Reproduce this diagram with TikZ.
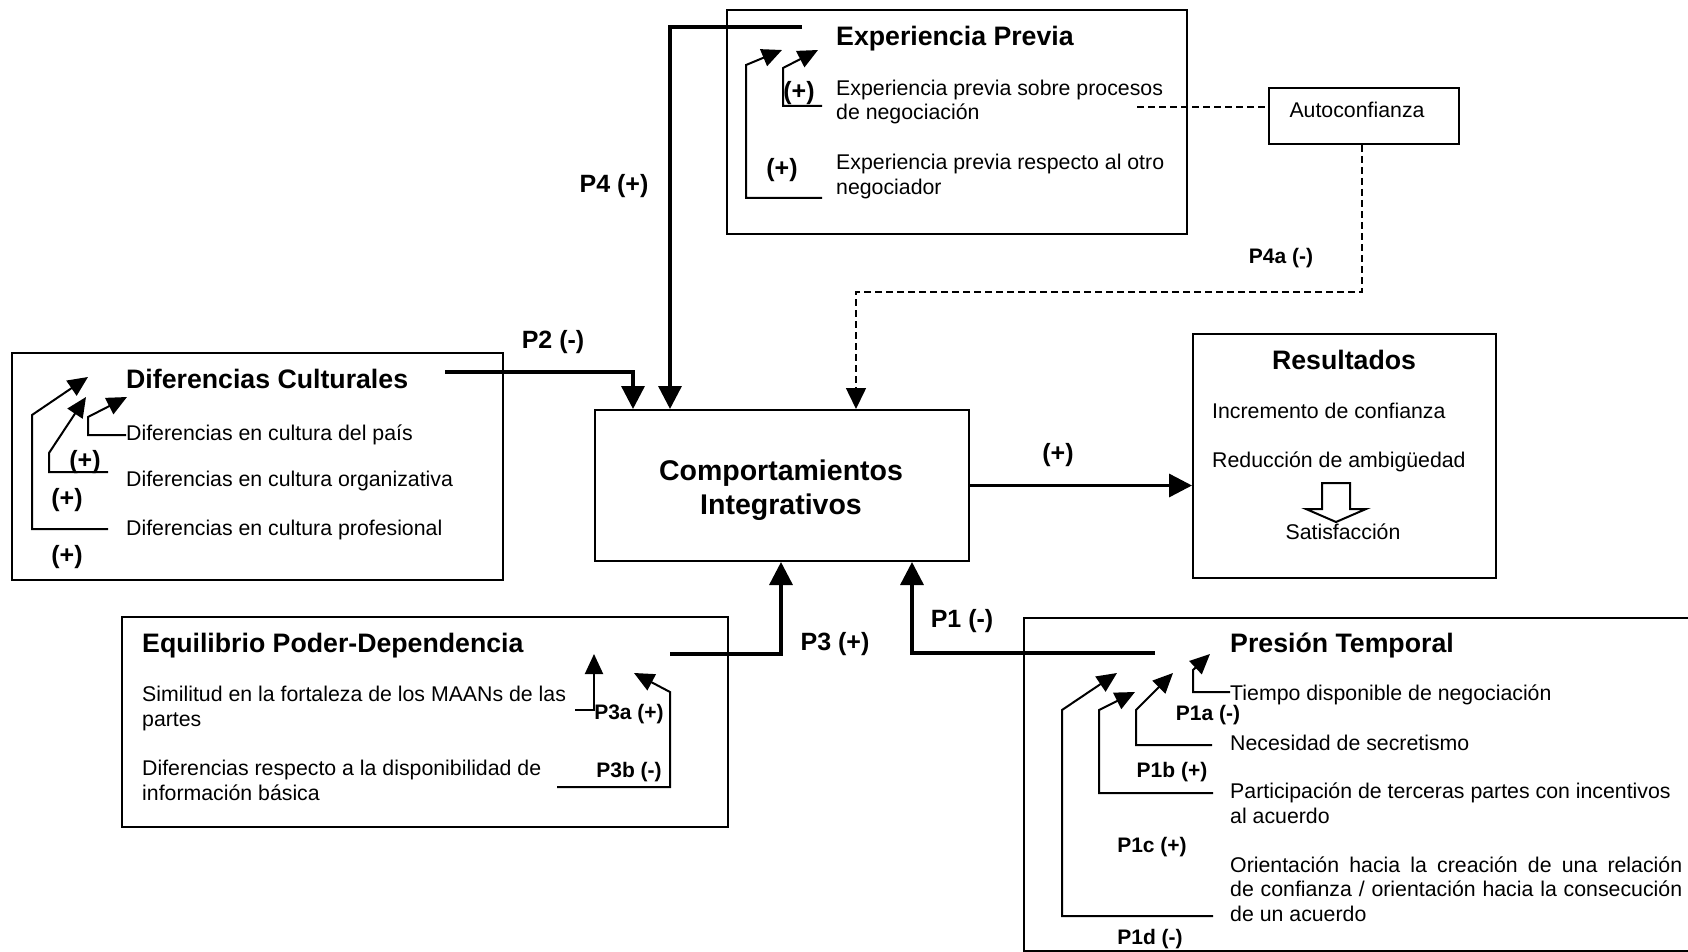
\documentclass[tikz,border=0pt]{standalone}
\usepackage{fontspec}
\setmainfont{Liberation Sans}
\usetikzlibrary{arrows.meta,calc}

\begin{document}
\begin{tikzpicture}[x=1pt,y=-1pt,
  box/.style={draw,line width=2pt,inner sep=0pt},
  body/.style={font=\fontsize{21.3}{24.5}\selectfont,inner sep=0pt,align=left},
  ttl/.style={font=\bfseries\fontsize{26.7}{30}\selectfont,inner sep=0pt},
  lab/.style={font=\bfseries\fontsize{25}{28}\selectfont,inner sep=0pt},
  slab/.style={font=\bfseries\fontsize{21}{24}\selectfont,inner sep=0pt},
  main/.style={line width=3.4pt,-{Triangle[length=23pt,width=23pt]}},
  sub/.style={line width=2pt,-{Triangle[length=20pt,width=18pt]}},
  dsh/.style={line width=1.6pt,dash pattern=on 7pt off 4pt},
]
\useasboundingbox (0,0) rectangle (1688,952);
\clip (0,0) rectangle (1688,952);

% ---------- boxes ----------
\node[box,anchor=north west,minimum width=491pt,minimum height=227pt] (dif) at (11,352) {};
\node[box,anchor=north west,minimum width=460pt,minimum height=224pt] (exp) at (726,9) {};
\node[box,anchor=north west,minimum width=190pt,minimum height=56pt] (auto) at (1268,87) {};
\node[box,anchor=north west,minimum width=374pt,minimum height=151pt] (comp) at (594,409) {};
\node[box,anchor=north west,minimum width=303pt,minimum height=244pt] (res) at (1192,333) {};
\node[box,anchor=north west,minimum width=606pt,minimum height=210pt] (eq) at (121,616) {};
\node[box,anchor=north west,minimum width=700pt,minimum height=333pt] (pres) at (1023,617) {};

\node[font=\fontsize{21.3}{24.5}\selectfont,inner sep=0pt] (autoT) at (1357,110) {Autoconfianza};
\node[align=center,inner sep=0pt,font=\bfseries\fontsize{28.5}{34}\selectfont]
  (compT) at (781,490) {Comportamientos\\Integrativos};

% ---------- Diferencias Culturales ----------
\node[ttl,anchor=base west] (difT) at (126,388) {Diferencias Culturales};
\node[body,anchor=base west] (dif1) at (126,440) {Diferencias en cultura del país};
\node[body,anchor=base west] (dif2) at (126,486) {Diferencias en cultura organizativa};
\node[body,anchor=base west] (dif3) at (126,535) {Diferencias en cultura profesional};
\node[lab] (difp1) at (85,462) {(+)};
\node[lab] (difp2) at (67,500) {(+)};
\node[lab] (difp3) at (67,557) {(+)};
\coordinate (d1) at (127,397);
\coordinate (d2) at (86,397);
\coordinate (d3) at (88,377);
\draw[sub] (dif1.west |- 0,435) -- (88,435) -- (88,417) -- (d1);
\draw[sub] (108,472) -- (49,472) -- (49,453) -- (d2);
\draw[sub] (108,529) -- (32,529) -- (32,415) -- (d3);

% ---------- Experiencia Previa ----------
\node[ttl,anchor=base west] (expT) at (836,46) {Experiencia Previa};
\node[body,anchor=base west] (exp1) at (836,120) {Experiencia previa sobre procesos\\de negociación};
\node[body,anchor=base west] (exp2) at (836,194) {Experiencia previa respecto al otro\\negociador};
\node[lab] (expp1) at (799,93) {(+)};
\node[lab] (expp2) at (782,170) {(+)};
\coordinate (e1) at (818,50);
\coordinate (e2) at (782,50);
\draw[sub] (822,106) -- (783,106) -- (783,68) -- (e1);
\draw[sub] (822,198) -- (746,198) -- (746,65) -- (e2);

% ---------- Resultados ----------
\node[ttl] (resT) at (1344,360) {Resultados};
\node[body,anchor=base west] (res1) at (1212,418) {Incremento de confianza};
\node[body,anchor=base west] (res2) at (1212,467) {Reducción de ambigüedad};
\node[body] (res3) at (1343,532) {Satisfacción};
\draw[line width=2pt,line join=miter]
  (1322,483) -- (1322,509) -- (1306,509) -- (1336,522) -- (1366,509)
  -- (1350,509) -- (1350,483) -- cycle;

% ---------- Equilibrio Poder-Dependencia ----------
\node[ttl,anchor=base west] (eqT) at (142,652) {Equilibrio Poder-Dependencia};
\node[body,anchor=base west] (eq1) at (142,726) {Similitud en la fortaleza de los MAANs de las\\partes};
\node[body,anchor=base west] (eq2) at (142,800) {Diferencias respecto a la disponibilidad de\\información básica};
\node[slab] (p3a) at (629,714) {P3a (+)};
\node[slab] (p3b) at (629,772) {P3b (-)};
\coordinate (q1) at (594,654);
\coordinate (q2) at (634,673);
\draw[sub] (575,710) -- (594,710) -- (q1);
\draw[sub] (557,787) -- (670,787) -- (670,692) -- (q2);

% ---------- Presion Temporal ----------
\node[ttl,anchor=base west] (prT) at (1230,652) {Presión Temporal};
\node[body,anchor=base west] (pr1) at (1230,700) {Tiempo disponible de negociación};
\node[body,anchor=base west] (pr2) at (1230,750) {Necesidad de secretismo};
\node[body,anchor=base west] (pr3) at (1230,823) {Participación de terceras partes con incentivos\\al acuerdo};
\node[body,anchor=base west] (pr4) at (1230,921)
  {\makebox[452pt][s]{Orientación hacia la creación de una relación}\\
   \makebox[452pt][s]{de confianza / orientación hacia la consecución}\\
   de un acuerdo};
\node[slab] (p1a) at (1208,715) {P1a (-)};
\node[slab] (p1b) at (1172,772) {P1b (+)};
\node[slab] (p1c) at (1152,847) {P1c (+)};
\node[slab] (p1d) at (1150,939) {P1d (-)};
\coordinate (t1) at (1210,654);
\coordinate (t2) at (1173,673);
\coordinate (t3) at (1135,692);
\coordinate (t4) at (1117,673);
\draw[sub] (pr1.west |- 0,692) -- (1193,692) -- (1193,670) -- (t1);
\draw[sub] (1212,745) -- (1136,745) -- (1136,710) -- (t2);
\draw[sub] (1213,793) -- (1099,793) -- (1099,710) -- (t3);
\draw[sub] (1213,916) -- (1062,916) -- (1062,710) -- (t4);

% ---------- main connectors ----------
\coordinate (p2s) at (445,372);
\coordinate (p4s) at (802,27);
\coordinate (p3s) at (670,654);
\coordinate (p1s) at (1155,653);
\coordinate (c2) at ($(comp.north west)+(39,0)$);
\coordinate (c4) at ($(comp.north west)+(76,0)$);
\coordinate (ca) at ($(comp.north west)+(262,0)$);
\coordinate (c3) at ($(comp.south west)+(187,0)$);
\coordinate (c1) at ($(comp.south west)+(318,0)$);
\coordinate (dbend) at (856,292);
\coordinate (ds) at (1137,107);

\draw[main] (p2s) -| (c2);
\draw[main] (p4s) -| (c4);
\draw[main] (p3s) -| (c3);
\draw[main] (p1s) -| (c1);
\draw[main] (comp.east) -- (comp.east -| res.west);

\draw[dsh] (ds) -- (ds -| auto.west);
\draw[dsh,-{Triangle[length=21pt,width=20pt]}] (auto.south -| 1362,0) |- (dbend) -- (ca);

\node[lab] (lp4) at (614,186) {P4 (+)};
\node[lab] (lp2) at (553,342) {P2 (-)};
\node[lab] (lpr) at (1058,455) {(+)};
\node[lab] (lp3) at (835,644) {P3 (+)};
\node[lab] (lp1) at (962,621) {P1 (-)};
\node[slab] (lp4a) at (1281,258) {P4a (-)};
\end{tikzpicture}
\end{document}
